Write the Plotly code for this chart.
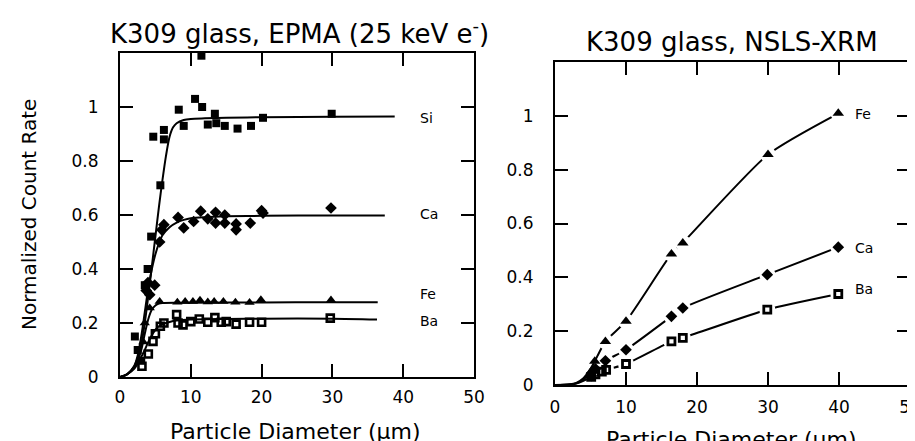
import plotly.graph_objects as go

# ---------------- EPMA (left) data ----------------
si_fit_x = [0, 1, 2, 2.5, 3, 3.5, 4, 4.5, 5, 5.5, 6, 6.5, 7, 7.5, 8, 9, 10, 12, 15, 20, 30, 38.8]
si_fit_y = [0, 0.01, 0.04, 0.07, 0.12, 0.20, 0.30, 0.41, 0.52, 0.63, 0.73, 0.82, 0.89, 0.925, 0.94, 0.952, 0.956, 0.958, 0.96, 0.962, 0.964, 0.965]
ca_fit_x = [0, 1, 2, 2.5, 3, 3.5, 4, 4.5, 5, 5.5, 6, 7, 8, 9, 10, 12, 15, 20, 30, 37.4]
ca_fit_y = [0, 0.01, 0.04, 0.08, 0.15, 0.24, 0.33, 0.40, 0.455, 0.495, 0.525, 0.555, 0.572, 0.582, 0.588, 0.592, 0.595, 0.597, 0.598, 0.598]
fe_fit_x = [0, 1, 2, 2.5, 3, 3.5, 4, 4.5, 5, 5.5, 6, 8, 10, 20, 30, 36.4]
fe_fit_y = [0, 0.01, 0.035, 0.06, 0.10, 0.16, 0.215, 0.25, 0.265, 0.272, 0.274, 0.275, 0.275, 0.276, 0.277, 0.277]
ba_fit_x = [0, 1, 2, 2.5, 3, 3.5, 4, 4.5, 5, 5.5, 6, 7, 8, 10, 15, 20, 30, 36.3]
ba_fit_y = [0, 0.01, 0.03, 0.05, 0.075, 0.10, 0.13, 0.155, 0.175, 0.188, 0.196, 0.204, 0.209, 0.213, 0.215, 0.216, 0.216, 0.213]

si_pts_x = [2.1, 2.5, 3.0, 3.5, 3.9, 4.4, 5.7, 4.7, 6.2, 6.2, 8.3, 9.0, 10.6, 11.5, 11.6, 12.4, 13.4, 13.6, 14.8, 16.6, 18.5, 20.2, 29.9]
si_pts_y = [0.15, 0.10, 0.06, 0.34, 0.40, 0.52, 0.71, 0.89, 0.915, 0.88, 0.99, 0.93, 1.03, 1.19, 1.0, 0.935, 0.975, 0.94, 0.93, 0.92, 0.93, 0.96, 0.975]
ca_pts_x = [3.7, 3.95, 4.2, 4.9, 5.6, 5.9, 6.2, 8.2, 9.0, 10.4, 11.4, 12.4, 13.5, 13.5, 14.8, 14.8, 16.4, 16.4, 18.4, 20.0, 20.2, 29.8]
ca_pts_y = [0.32, 0.35, 0.305, 0.34, 0.50, 0.545, 0.564, 0.591, 0.552, 0.576, 0.614, 0.586, 0.61, 0.57, 0.60, 0.57, 0.567, 0.545, 0.57, 0.616, 0.607, 0.626]
fe_pts_x = [3.3, 3.5, 4.2, 5.6, 8.1, 9.2, 10.3, 11.3, 12.4, 13.3, 14.6, 16.3, 18.3, 19.9, 29.8]
fe_pts_y = [0.13, 0.20, 0.256, 0.28, 0.277, 0.28, 0.28, 0.284, 0.278, 0.28, 0.28, 0.277, 0.276, 0.286, 0.285]
ba_pts_x = [3.1, 4.0, 4.66, 5.0, 5.7, 6.2, 8.0, 8.2, 8.9, 10.0, 11.2, 12.4, 13.4, 14.3, 15.0, 16.4, 18.3, 20.0, 29.7]
ba_pts_y = [0.04, 0.085, 0.132, 0.16, 0.188, 0.20, 0.231, 0.20, 0.193, 0.205, 0.215, 0.203, 0.22, 0.203, 0.205, 0.196, 0.203, 0.203, 0.218]

# ---------------- NSLS-XRM (right) data ----------------
fe_x = [5.1, 5.6, 7.1, 10.0, 16.4, 18.0, 30.0, 39.9]
fe_y = [0.05, 0.088, 0.162, 0.237, 0.487, 0.528, 0.856, 1.01]
ca_x = [5.1, 5.7, 7.1, 10.0, 16.4, 18.0, 29.9, 39.9]
ca_y = [0.035, 0.06, 0.09, 0.131, 0.255, 0.286, 0.41, 0.512]
ba_x = [5.1, 5.7, 6.6, 7.2, 10.0, 16.4, 18.0, 29.9, 39.9]
ba_y = [0.03, 0.04, 0.05, 0.056, 0.078, 0.162, 0.175, 0.28, 0.338]

fe_line_x = [0, 2, 3, 4, 5, 5.6, 7.1, 10, 16.4, 18, 30, 40]
fe_line_y = [0, 0.002, 0.008, 0.025, 0.06, 0.088, 0.162, 0.237, 0.487, 0.528, 0.856, 1.01]
ca_line_x = [0, 2, 3, 4, 5, 5.7, 7.1, 10, 16.4, 18, 29.9, 39.9]
ca_line_y = [0, 0.002, 0.006, 0.02, 0.045, 0.06, 0.09, 0.131, 0.255, 0.286, 0.41, 0.512]
ba_line_x = [0, 2, 3, 4, 5.1, 5.7, 6.6, 7.2, 10, 16.4, 18, 29.9, 39.9]
ba_line_y = [0, 0.002, 0.005, 0.015, 0.03, 0.04, 0.05, 0.056, 0.078, 0.162, 0.175, 0.28, 0.338]

x_ticks = [0, 10, 20, 30, 40, 50]
y_ticks = [0, 0.2, 0.4, 0.6, 0.8, 1]
y_tick_text = ["0", "0.2", "0.4", "0.6", "0.8", "1"]

FONT = "DejaVu Sans"
BLACK = "#000000"
X_RANGE = [0, 50]
Y_RANGE = [0, 1.2]

fig = go.Figure()

for fx, fy in [(si_fit_x, si_fit_y), (ca_fit_x, ca_fit_y), (fe_fit_x, fe_fit_y), (ba_fit_x, ba_fit_y)]:
    fig.add_trace(go.Scatter(x=fx, y=fy, mode="lines", line=dict(color=BLACK, width=2, shape="spline", smoothing=0.8),
                             xaxis="x", yaxis="y", showlegend=False, hoverinfo="skip"))
fig.add_trace(go.Scatter(x=si_pts_x, y=si_pts_y, mode="markers", marker=dict(symbol="square", size=8, color=BLACK),
                         xaxis="x", yaxis="y", showlegend=False))
fig.add_trace(go.Scatter(x=ca_pts_x, y=ca_pts_y, mode="markers", marker=dict(symbol="diamond", size=9, color=BLACK),
                         xaxis="x", yaxis="y", showlegend=False))
fig.add_trace(go.Scatter(x=fe_pts_x, y=fe_pts_y, mode="markers", marker=dict(symbol="triangle-up", size=9, color=BLACK),
                         xaxis="x", yaxis="y", showlegend=False))
fig.add_trace(go.Scatter(x=ba_pts_x, y=ba_pts_y, mode="markers",
                         marker=dict(symbol="square-open", size=7, color=BLACK, line=dict(width=2.6, color=BLACK)),
                         xaxis="x", yaxis="y", showlegend=False))

for lx, ly in [(fe_line_x, fe_line_y), (ca_line_x, ca_line_y), (ba_line_x, ba_line_y)]:
    fig.add_trace(go.Scatter(x=lx, y=ly, mode="lines", line=dict(color=BLACK, width=2, shape="spline", smoothing=0.6),
                             xaxis="x2", yaxis="y2", showlegend=False, hoverinfo="skip"))
for px, py in [(fe_x, fe_y), (ca_x, ca_y), (ba_x, ba_y)]:
    fig.add_trace(go.Scatter(x=px[2:], y=py[2:], mode="markers", marker=dict(symbol="circle", size=16, color="white"),
                             xaxis="x2", yaxis="y2", showlegend=False, hoverinfo="skip"))
fig.add_trace(go.Scatter(x=fe_x, y=fe_y, mode="markers", marker=dict(symbol="triangle-up", size=10, color=BLACK),
                         xaxis="x2", yaxis="y2", showlegend=False))
fig.add_trace(go.Scatter(x=ca_x, y=ca_y, mode="markers", marker=dict(symbol="diamond", size=9, color=BLACK),
                         xaxis="x2", yaxis="y2", showlegend=False))
fig.add_trace(go.Scatter(x=ba_x, y=ba_y, mode="markers",
                         marker=dict(symbol="square-open", size=7, color=BLACK, line=dict(width=2.8, color=BLACK)),
                         xaxis="x2", yaxis="y2", showlegend=False))

# plain axis settings, as in the test file where inside ticks rendered
def axis(domain, rng, tickvals, anchor, ticktext=None, standoff=None):
    d = dict(domain=domain, range=rng, tickvals=tickvals, anchor=anchor,
             ticks="inside", ticklen=13, tickwidth=2, tickcolor="black",
             showline=True, linecolor="black", linewidth=2, mirror="ticks",
             showgrid=False, zeroline=False,
             tickfont=dict(family=FONT, size=17, color="black"))
    if ticktext is not None:
        d["ticktext"] = ticktext
    if standoff is not None:
        d["ticklabelstandoff"] = standoff
    return d

fig.update_layout(
    template="none",
    width=915, height=441,
    margin=dict(l=0, r=0, t=0, b=0),
    showlegend=False,
    paper_bgcolor="white", plot_bgcolor="white",
    xaxis=axis([112/915, 466/915], X_RANGE, x_ticks, "y", standoff=4),
    yaxis=axis([1-369/441, 1-45/441], Y_RANGE, y_ticks, "x", ticktext=y_tick_text, standoff=16),
    xaxis2=axis([547/915, 902/915], X_RANGE, x_ticks, "y2", standoff=6),
    yaxis2=axis([1-377/441, 1-54/441], Y_RANGE, y_ticks, "x2", ticktext=y_tick_text, standoff=16),
)

ann = []
def txt(x, y, s, size, **kw):
    d = dict(x=x, y=y, xref="paper", yref="paper", text=s, showarrow=False,
             font=dict(family=FONT, size=size, color=BLACK), xanchor="center", yanchor="middle")
    d.update(kw)
    ann.append(d)

txt(291/915, 1-24/441, "K309 glass, EPMA (25 keV e<sup>-</sup>)", 26)
txt(724/915, 1-34/441, "K309 glass, NSLS-XRM", 26)
txt(287/915, 1-423/441, "Particle Diameter (μm)", 22)
txt(723/915, 1-431/441, "Particle Diameter (μm)", 22)
txt(21/915, 1-207/441, "Normalized Count Rate", 20, textangle=-90)

for s, x, y in [("Si", 42.1, 0.96), ("Ca", 42.1, 0.604), ("Fe", 42.1, 0.307), ("Ba", 42.1, 0.207)]:
    ann.append(dict(x=x, y=y, xref="x", yref="y", text=s, showarrow=False, xanchor="left", yanchor="middle",
                    font=dict(family=FONT, size=14, color=BLACK)))
for s, x, y in [("Fe", 42.0, 1.007), ("Ca", 42.0, 0.509), ("Ba", 42.0, 0.357)]:
    ann.append(dict(x=x, y=y, xref="x2", yref="y2", text=s, showarrow=False, xanchor="left", yanchor="middle",
                    font=dict(family=FONT, size=14, color=BLACK)))

fig.update_layout(annotations=ann)
fig.write_html("out.html")
